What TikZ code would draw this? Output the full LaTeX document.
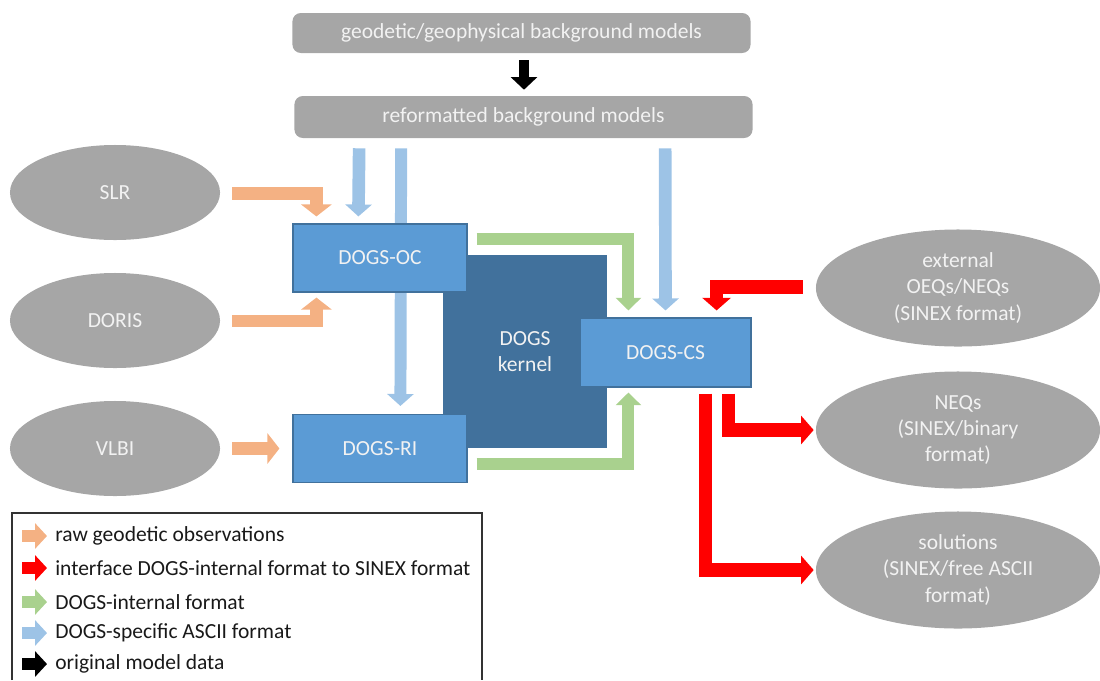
\documentclass[tikz,border=0pt]{standalone}
\usepackage{fontspec}
\setmainfont{Carlito}
\usetikzlibrary{arrows.meta,positioning,calc,backgrounds,shapes.geometric}
\definecolor{ovalgray}{RGB}{166,166,166}
\definecolor{dogsblue}{RGB}{91,155,213}
\definecolor{kernelblue}{RGB}{65,113,156}
\definecolor{rawor}{RGB}{244,177,131}
\definecolor{asciiblue}{RGB}{157,195,230}
\definecolor{intgreen}{RGB}{169,209,142}
\definecolor{sinexred}{RGB}{255,0,0}
\definecolor{labelwhite}{RGB}{242,242,242}
\newcommand\lblfont{\fontsize{15.3}{18.5}\selectfont}

\begin{document}
\begin{tikzpicture}[x=0.025cm,y=-0.025cm,
  graybox/.style={fill=ovalgray,rounded corners=6pt,minimum width=11.45cm,inner sep=0pt,text=labelwhite,font=\lblfont},
  oval/.style={ellipse,fill=ovalgray,inner sep=0pt,text=labelwhite,font=\lblfont,align=center},
  dogsbox/.style={rectangle,fill=dogsblue,draw=kernelblue,line width=0.8pt,minimum width=4.35cm,minimum height=1.7cm,inner sep=0pt,text=labelwhite,font=\lblfont},
  orangearr/.style={draw=rawor,line width=9.2pt,-{Triangle[length=8.5pt,width=21.3pt]}},
  bluearr/.style={draw=asciiblue,line width=9pt,-{Triangle[length=8.5pt,width=18.5pt]}},
  greenarr/.style={draw=intgreen,line width=8.5pt,-{Triangle[length=9pt,width=17.8pt]}},
  redarr/.style={draw=sinexred,line width=9.5pt,-{Triangle[length=9pt,width=20pt]}},
  blackarr/.style={draw=black,line width=7pt,-{Triangle[length=9pt,width=18.5pt]}},
  legarr/.style={draw=#1,line width=8.5pt,-{Triangle[length=8.5pt,width=17.8pt]}},
  legtext/.style={anchor=west,inner sep=0pt,font=\lblfont,text=black!90}]
  \useasboundingbox (0,0) rectangle (1100,680);

  % background models
  \node[graybox,minimum height=1cm] (geo) at (521.5,33) {geodetic/geophysical background models};
  \node[graybox,minimum height=1.05cm] (ref) at (523.5,117) {reformatted background models};
  \draw[blackarr] ($(geo.south)+(2.5,7)$) -- ($(ref.north)+(0.5,-6)$);

  % observation techniques
  \node[oval,minimum width=5.25cm,minimum height=2.375cm] (slr) at (115,192.5) {SLR};
  \node[oval,minimum width=5.25cm,minimum height=2.375cm] (doris) at (115,320.5) {DORIS};
  \node[oval,minimum width=5.25cm,minimum height=2.375cm] (vlbi) at (115,448.5) {VLBI};

  % DOGS modules
  \node[rectangle,fill=kernelblue,minimum width=4.1cm,minimum height=4.825cm,inner sep=0pt,text=labelwhite,font=\lblfont,align=center] (kernel) at (525,351.5) {DOGS\\kernel};
  \node[dogsbox] (oc) at (380,258) {DOGS-OC};
  \node[dogsbox] (ri) at (380,448.5) {DOGS-RI};
  \node[dogsbox,minimum width=4.275cm,minimum height=1.725cm] (cs) at (665.5,352.5) {DOGS-CS};

  % products
  \node[oval,minimum width=7.1cm,minimum height=2.925cm] (ext) at (958,288) {external\\OEQs/NEQs\\(SINEX format)};
  \node[oval,minimum width=7.1cm,minimum height=2.925cm] (neq) at (958,430) {NEQs\\(SINEX/binary\\format)};
  \node[oval,minimum width=7.1cm,minimum height=2.925cm] (sol) at (958,570) {solutions\\(SINEX/free ASCII\\format)};

  % raw observations
  \draw[orangearr] ($(slr.east)+(12,1)$) -| ($(oc.north west)+(24,-7)$);
  \draw[orangearr] ($(doris.east)+(12,0.5)$) -| ($(oc.south west)+(24,5)$);
  \draw[orangearr] ($(vlbi.east)+(12,0)$) -- ($(ri.west)+(-13,0)$);

  % ASCII format
  \draw[bluearr] ($(ref.south west)+(65,10)$) -- ($(oc.north west)+(66,-7)$);
  \begin{scope}[on background layer]
    \draw[bluearr,line width=8.5pt] ($(ref.south west)+(107,10)$) -- ($(ri.north west)+(108,-8)$);
  \end{scope}
  \draw[bluearr] ($(ref.south west)+(371,10)$) -- ($(cs.north)+(0,-7)$);

  % internal format
  \draw[greenarr] ($(oc.east)+(9,-19)$) -| ($(cs.north west)+(49,-7)$);
  \draw[greenarr] ($(ri.east)+(9,15.5)$) -| ($(cs.south west)+(49,5)$);

  % SINEX interface
  \draw[redarr] ($(ext.west)+(-13,-1)$) -| ($(cs.north east)+(-35,-7)$);
  \draw[redarr] ($(cs.south east)+(-23,6)$) |- ($(neq.west)+(-2,0)$);
  \draw[redarr] ($(cs.south east)+(-46,6)$) |- ($(sol.west)+(-2,0)$);

  % legend
  \draw[line width=1pt,draw=black!80] (12,680) |- (482,513) -- (482,680);
  \node[legtext] (legraw) at (55,536) {raw geodetic observations};
  \node[legtext] (legsinex) at (55,568) {interface DOGS-internal format to SINEX format};
  \node[legtext] (legint) at (55,602) {DOGS-internal format};
  \node[legtext] (legascii) at (55,633) {DOGS-specific ASCII format};
  \node[legtext] (legmodel) at (55,664) {original model data};
  \draw[legarr=rawor] ($(legraw.west)+(-33,0)$) -- ($(legraw.west)+(-8,0)$);
  \draw[legarr=sinexred] ($(legsinex.west)+(-33,0)$) -- ($(legsinex.west)+(-8,0)$);
  \draw[legarr=intgreen] ($(legint.west)+(-33,0)$) -- ($(legint.west)+(-8,0)$);
  \draw[legarr=asciiblue] ($(legascii.west)+(-33,0)$) -- ($(legascii.west)+(-8,0)$);
  \draw[legarr=black] ($(legmodel.west)+(-33,0)$) -- ($(legmodel.west)+(-8,0)$);
\end{tikzpicture}
\end{document}
